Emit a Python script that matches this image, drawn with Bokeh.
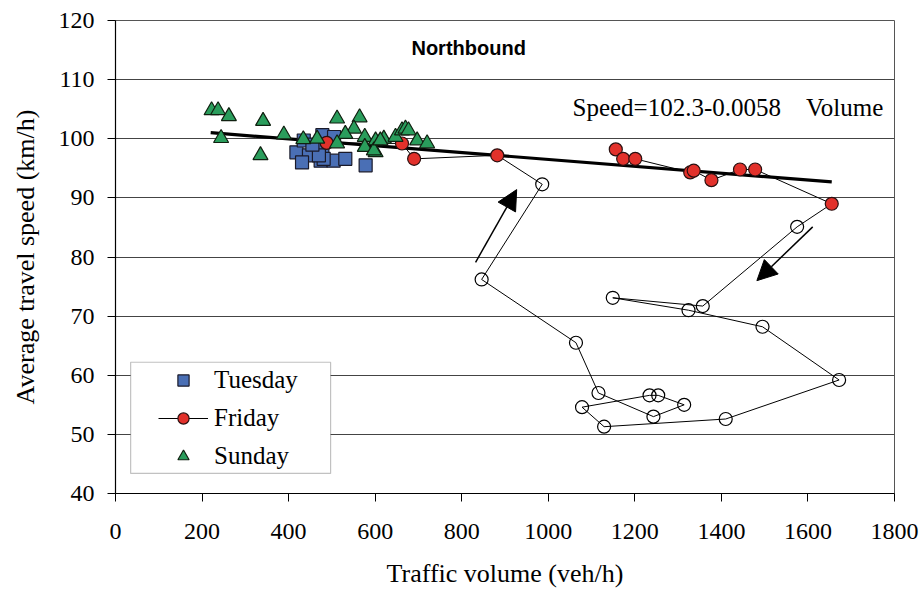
from bokeh.plotting import figure
from bokeh.models import (Range1d, FixedTicker, Legend, LegendItem, Label,
                          Arrow, NormalHead, BoxAnnotation)
from bokeh.embed import file_html
from bokeh.resources import INLINE

# ---------------- data ----------------
tue_vol = [418, 447, 431, 478, 478, 474, 504, 505, 531, 578, 435, 481, 470, 455]
tue_spd = [97.7, 97.2, 96.0, 100.6, 98.3, 96.3, 96.3, 100.3, 96.6, 95.5, 99.7, 96.6, 97.2, 99.0]

sun_vol = [222, 237, 262, 341, 244, 335, 389, 434, 466, 512, 564, 551, 531, 512,
           576, 576, 601, 601, 620, 647, 662, 670, 677, 697, 720, 597, 612]
sun_spd = [104.8, 104.8, 103.8, 103.0, 100.1, 97.2, 100.7, 99.9, 100.0, 103.4, 103.6,
           101.7, 100.8, 99.2, 100.3, 98.6, 99.7, 97.7, 100.0, 100.3, 101.4, 101.7,
           101.4, 99.7, 99.2, 98.0, 99.7]

# Friday, in time order (free flow -> congestion -> recovery)
fri_vol = [1156, 1173, 1201, 1328, 1336, 1377, 1443, 1478, 1655,
           1575, 1357, 1149, 1324, 1495, 1672, 1410, 1129, 1078, 1234, 1254,
           1314, 1243, 1116, 1064, 846, 986,
           882, 690, 662, 488]
fri_spd = [98.2, 96.6, 96.6, 94.3, 94.6, 93.0, 94.8, 94.8, 89.0,
           85.1, 71.7, 73.1, 71.0, 68.2, 59.2, 52.6, 51.3, 54.6, 56.6, 56.6,
           55.0, 53.0, 57.0, 65.5, 76.2, 92.3,
           97.2, 96.6, 99.2, 99.3]
# True = free-flow point (red filled), False = congested point (open circle)
fri_free = [True] * 9 + [False] * 17 + [True] * 4

fit_vol = [220, 1655]
fit_a, fit_b = 102.3, -0.0058

x_ticks = [0, 200, 400, 600, 800, 1000, 1200, 1400, 1600, 1800]
y_ticks = [40, 50, 60, 70, 80, 90, 100, 110, 120]

# ---------------- figure ----------------
SERIF = "Liberation Serif"
p = figure(width=922, height=590, x_range=Range1d(0, 1800), y_range=Range1d(40, 120),
           output_backend="svg", toolbar_location=None,
           min_border_left=115, min_border_right=28, min_border_top=20, min_border_bottom=97)
p.background_fill_color = "white"
p.border_fill_color = "white"
p.outline_line_color = "#555555"
p.outline_line_width = 1

p.xgrid.visible = False
p.ygrid.grid_line_color = "#444444"
p.ygrid.grid_line_width = 1.2
p.ygrid.ticker = FixedTicker(ticks=y_ticks)

for ax in (p.xaxis[0], p.yaxis[0]):
    ax.axis_line_color = "black"
    ax.axis_line_width = 1.2
    ax.major_tick_line_color = "black"
    ax.major_tick_out = 8
    ax.major_tick_in = 0
    ax.minor_tick_line_color = None
    ax.major_label_text_font = SERIF
    ax.major_label_text_font_size = "24px"
    ax.major_label_text_color = "black"
    ax.axis_label_text_font = SERIF
    ax.axis_label_text_font_size = "26px"
    ax.axis_label_text_font_style = "normal"
    ax.axis_label_text_color = "black"

p.xaxis.ticker = FixedTicker(ticks=x_ticks)
p.yaxis.ticker = FixedTicker(ticks=y_ticks)
p.xaxis.axis_label = "Traffic volume (veh/h)"
p.yaxis.axis_label = "Average travel speed (km/h)"
p.xaxis.major_label_standoff = 22
p.xaxis.axis_label_standoff = 17
p.yaxis.major_label_standoff = 13
p.yaxis.axis_label_standoff = 16

# regression line
fit_spd = [fit_a + fit_b * v for v in fit_vol]
p.line(fit_vol, fit_spd, line_color="black", line_width=3.2)

# Friday path
fri_line = p.line(fri_vol, fri_spd, line_color="black", line_width=1)

# Tuesday squares
tue_r = p.scatter(tue_vol, tue_spd, marker="square", size=13,
                  fill_color="#4a6fb5", line_color="#1a1a2a", line_width=1.2)

# Friday markers
fv_free = [v for v, f in zip(fri_vol, fri_free) if f]
fs_free = [s for s, f in zip(fri_spd, fri_free) if f]
fv_cong = [v for v, f in zip(fri_vol, fri_free) if not f]
fs_cong = [s for s, f in zip(fri_spd, fri_free) if not f]
fri_r = p.scatter(fv_free, fs_free, marker="circle", size=13,
                  fill_color="#e2312b", line_color="#2a1010", line_width=1.2)
p.scatter(fv_cong, fs_cong, marker="circle", size=13,
          fill_color=None, line_color="black", line_width=1.2)

# Sunday triangles
sun_r = p.scatter(sun_vol, sun_spd, marker="triangle", size=15,
                  fill_color="#2a9d5c", line_color="#102010", line_width=1.2)

# arrows
arrow_up = dict(x0=832, y0=79.1, x1=927, y1=91.4)
arrow_dn = dict(x0=1611, y0=85.1, x1=1482, y1=76.0)
for a in (arrow_up, arrow_dn):
    p.add_layout(Arrow(end=NormalHead(size=20, fill_color="black", line_color="black"),
                       x_start=a["x0"], y_start=a["y0"], x_end=a["x1"], y_end=a["y1"],
                       line_width=1.5, line_color="black"))

# texts
p.add_layout(Label(x=816, y=115.4, text="Northbound", text_font="Liberation Sans",
                   text_font_style="bold", text_font_size="20px", text_align="center",
                   text_baseline="middle", text_color="black"))
p.add_layout(Label(x=1056, y=105.3, text="Speed=102.3-0.0058\u00a0\u00a0\u00a0\u00a0Volume",
                   text_font=SERIF, text_font_size="25px", text_align="left",
                   text_baseline="middle", text_color="black"))

# legend box
p.add_layout(BoxAnnotation(left=35, right=497, bottom=43.4, top=62.2,
                           fill_color="white", fill_alpha=1.0,
                           line_color="#333333", line_width=1.2))

legend = Legend(items=[LegendItem(label="Tuesday", renderers=[tue_r]),
                       LegendItem(label="Friday", renderers=[fri_line, fri_r]),
                       LegendItem(label="Sunday", renderers=[sun_r])],
                location=(43, 23), orientation="vertical")
legend.background_fill_alpha = 0
legend.border_line_color = None
legend.padding = 0
legend.margin = 0
legend.spacing = 10
legend.glyph_width = 50
legend.glyph_height = 28
legend.label_height = 28
legend.label_standoff = 6
legend.label_text_font = SERIF
legend.label_text_font_size = "25px"
legend.label_text_color = "black"
p.add_layout(legend)

open("out.html", "w").write(file_html(p, INLINE))
